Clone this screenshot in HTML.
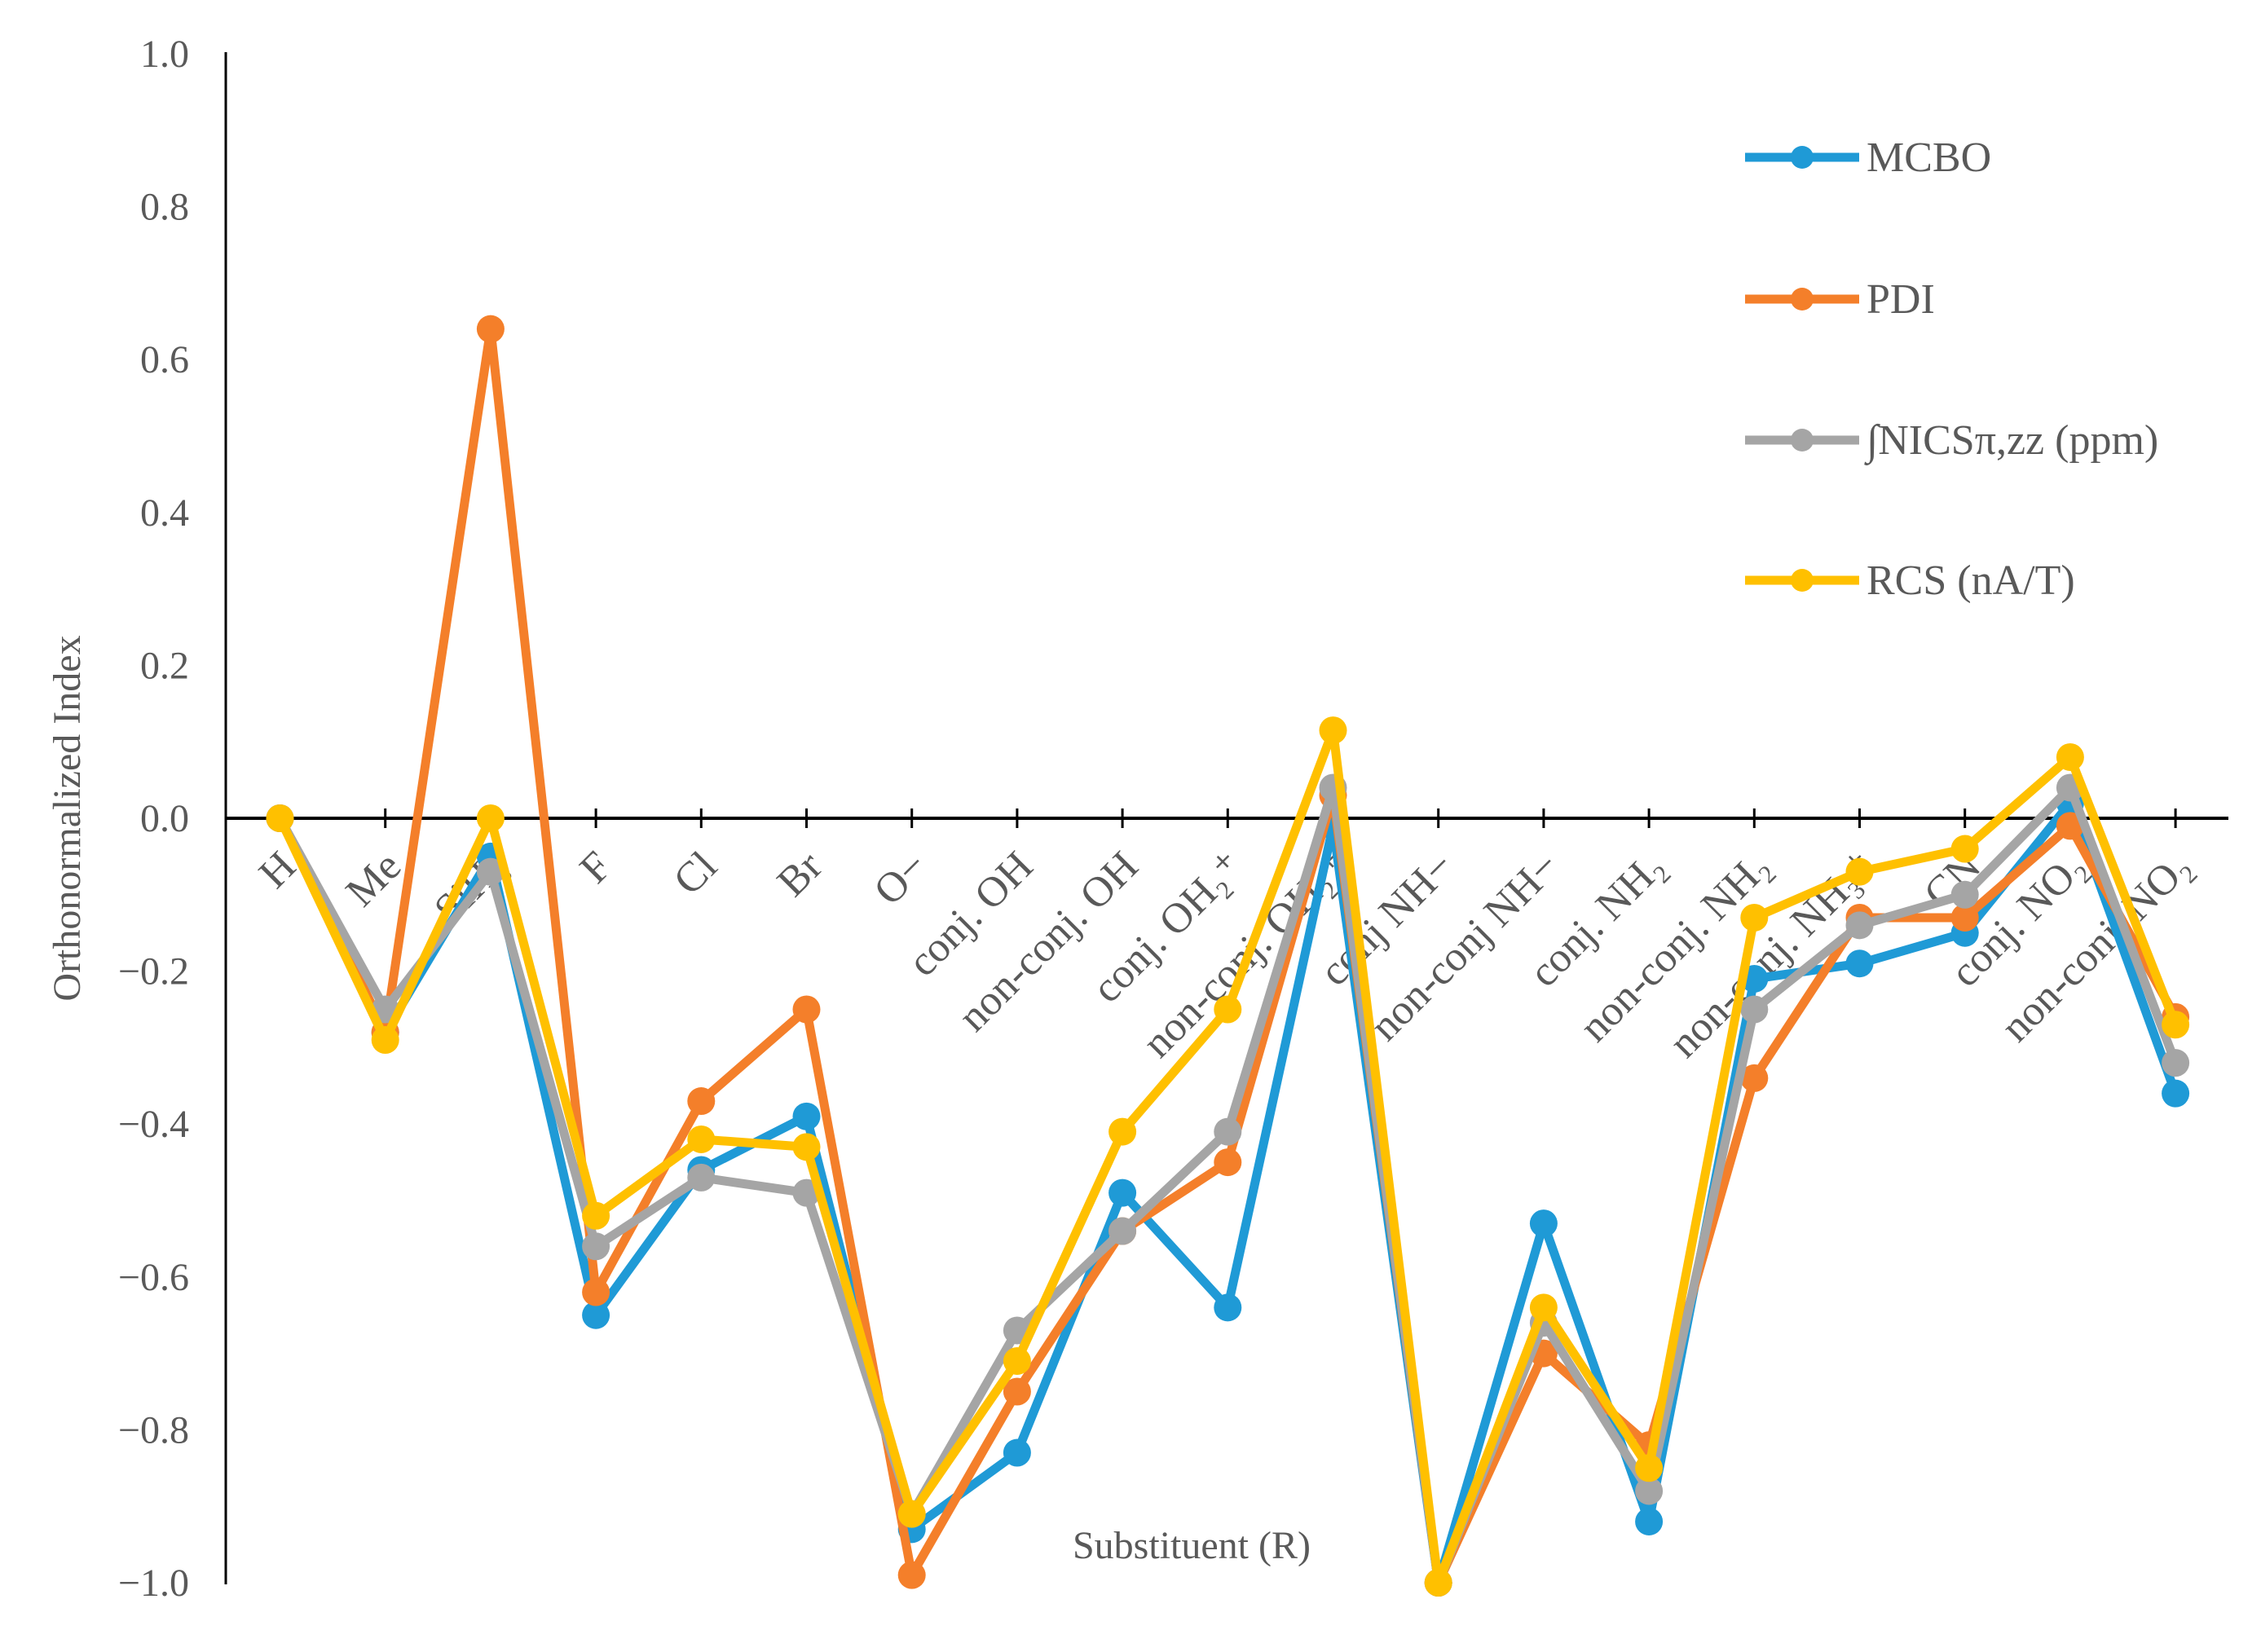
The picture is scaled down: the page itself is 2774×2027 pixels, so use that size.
<!DOCTYPE html>
<html><head><meta charset="utf-8"><style>
html,body{margin:0;padding:0;background:#fff}
svg{display:block}
text{font-family:"Liberation Serif",serif;fill:#595959}
</style></head><body>
<svg id="chart" width="2774" height="2027" viewBox="0 0 2774 2027" xmlns="http://www.w3.org/2000/svg">
<g id="axes"></g>
<g id="series"></g>
<g id="legend"></g>
<text x="0" y="0" font-size="48" text-anchor="middle" transform="translate(98,1004) rotate(-90)">Orthonormalized Index</text>
<text x="1462" y="1912" font-size="48" text-anchor="middle">Substituent (R)</text>
</svg>
<script>
const categories=["H","Me","SiH₃","F","Cl","Br","O−","conj. OH","non-conj. OH","conj. OH₂⁺","non-conj. OH₂⁺","conj NH−","non-conj NH−","conj. NH₂","non-conj. NH₂","non-conj. NH₃⁺","CN","conj. NO₂","non-conj. NO₂"];
const mcbo=[0,-0.28,-0.05,-0.65,-0.46,-0.39,-0.93,-0.83,-0.49,-0.64,-0.01,-1.0,-0.53,-0.92,-0.21,-0.19,-0.15,0.02,-0.36];
const pdi=[0,-0.28,0.64,-0.62,-0.37,-0.25,-0.99,-0.75,-0.54,-0.45,0.03,-1.0,-0.70,-0.82,-0.34,-0.13,-0.13,-0.01,-0.26];
const nics=[0,-0.25,-0.07,-0.56,-0.47,-0.49,-0.91,-0.67,-0.54,-0.41,0.04,-1.0,-0.66,-0.88,-0.25,-0.14,-0.10,0.04,-0.32];
const rcs=[0,-0.29,0,-0.52,-0.42,-0.43,-0.91,-0.71,-0.41,-0.25,0.115,-1.0,-0.64,-0.85,-0.13,-0.07,-0.04,0.08,-0.27];
const seriesNames=["MCBO","PDI","∫NICSπ,zz (ppm)","RCS (nA/T)"];
const yTicks=[1.0,0.8,0.6,0.4,0.2,0.0,-0.2,-0.4,-0.6,-0.8,-1.0];

const NS="http://www.w3.org/2000/svg";
const X0=343.5,DX=129.2,Y0=1004,YS=938;
const xs=i=>X0+i*DX;
const ys=v=>Y0-v*YS;
function mk(tag,attrs,parent){const e=document.createElementNS(NS,tag);for(const k in attrs)e.setAttribute(k,attrs[k]);parent.appendChild(e);return e;}
const axes=document.getElementById('axes');
let e=mk('line',{x1:277,y1:ys(1)-2,x2:277,y2:ys(-1)+2,stroke:'#000','stroke-width':3},axes);


e=mk('line',{x1:277,y1:Y0,x2:2734,y2:Y0,stroke:'#000','stroke-width':4},axes);


yTicks.forEach(t=>{
  const tx=mk('text',{x:232,y:ys(t)+16,'font-size':48,'text-anchor':'end'},axes);
  tx.textContent=(t<0?'−':'')+Math.abs(t).toFixed(1);
  
  
});
categories.forEach((c,i)=>{
  const x=xs(i);
  const tk=mk('line',{x1:x,y1:Y0-12,x2:x,y2:Y0+12,stroke:'#000','stroke-width':3},axes);
  
  
  const tx=mk('text',{x:0,y:0,'font-size':52,'text-anchor':'end',transform:`translate(${x+22},${Y0+62}) rotate(-45)`},axes);
  tx.textContent=c;
  
  
});
const colors=["#1f9ad6","#f47f2a","#a5a5a5","#ffc000"];
const data=[mcbo,pdi,nics,rcs];
const sg=document.getElementById('series');
data.forEach((arr,si)=>{
  const g=mk('g',{},sg);
  
  
  const pts=arr.map((v,i)=>xs(i)+','+ys(v)).join(' ');
  const pl=mk('polyline',{points:pts,fill:'none',stroke:colors[si],'stroke-width':11,'stroke-linejoin':'round'},g);
  
  
  arr.forEach((v,i)=>{
    const c=mk('circle',{cx:xs(i),cy:ys(v),r:17,fill:colors[si]},g);
    
    
  });
});
const lg=document.getElementById('legend');
const legY=[193,367,540,712];
seriesNames.forEach((n,i)=>{
  const g=mk('g',{},lg);
  
  
  mk('line',{x1:2141,y1:legY[i],x2:2281,y2:legY[i],stroke:colors[i],'stroke-width':11},g);
  mk('circle',{cx:2211,cy:legY[i],r:14,fill:colors[i]},g);
  const t=mk('text',{x:2290,y:legY[i]+17,'font-size':52},g);
  t.textContent=n;
});
</script>
</body></html>
